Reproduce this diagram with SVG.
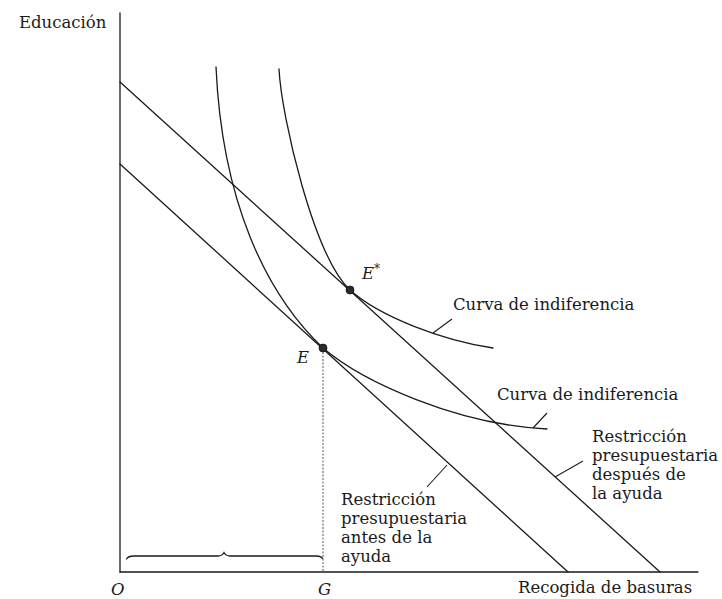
<svg xmlns="http://www.w3.org/2000/svg" width="722" height="599" viewBox="0 0 722 599">
<style>
.ln{fill:none;stroke:#1a1a1a;stroke-width:1.3;stroke-linecap:round}
.ld{fill:none;stroke:#1a1a1a;stroke-width:1.1}
.t{font-family:"DejaVu Serif","Liberation Serif",serif;font-size:16.5px;fill:#1a1a1a}
.it{font-family:"DejaVu Serif","Liberation Serif",serif;font-style:italic;font-size:16.5px;fill:#1a1a1a}
.dot{fill:#2a2a2a;stroke:#111;stroke-width:0.8}
</style>
<rect width="722" height="599" fill="#fff"/>
<g id="axes">
  <line class="ln" x1="120" y1="13" x2="120" y2="572"/>
  <line class="ln" x1="120" y1="572" x2="698" y2="572"/>
  <text class="t" x="19" y="28">Educación</text>
  <text class="t" x="518" y="593">Recogida de basuras</text>
  <text class="it" x="111" y="595">O</text>
  <text class="it" x="318" y="595">G</text>
</g>
<g id="budget-before">
  <line class="ln" x1="120" y1="164" x2="568" y2="572"/>
  <text class="t"><tspan x="341" y="505">Restricción</tspan><tspan x="341" y="524">presupuestaria</tspan><tspan x="341" y="543">antes de la</tspan><tspan x="341" y="562">ayuda</tspan></text>
</g>
<g id="budget-after">
  <line class="ln" x1="120" y1="82" x2="660" y2="572"/>
  <text class="t"><tspan x="592" y="442">Restricción</tspan><tspan x="592" y="461">presupuestaria</tspan><tspan x="592" y="480">después de</tspan><tspan x="592" y="499">la ayuda</tspan></text>
</g>
<g id="indiff-1">
  <path class="ln" d="M216,67 C222,200 265,293 323,348 C363,382 457,424.5 547,429"/>
  <text class="t" x="497" y="400">Curva de indiferencia</text>
</g>
<g id="indiff-2">
  <path class="ln" d="M279,69 C281.4,117.3 313.9,256.4 350,290 C380,317 443,340.5 493,348"/>
  <text class="t" x="453" y="310">Curva de indiferencia</text>
</g>
<g id="point-E">
  <circle class="dot" cx="323" cy="348" r="4"/>
  <text class="it" x="297" y="363">E</text>
  <line x1="323" y1="352" x2="323" y2="572" stroke="#555" stroke-width="1" stroke-dasharray="2,1.5"/>
</g>
<g id="point-Estar">
  <circle class="dot" cx="350" cy="290" r="4"/>
  <text class="it" x="362" y="279">E<tspan dy="-6" font-size="12">*</tspan></text>
</g>
<g id="bracket">
  <path class="ln" d="M126.5,559 Q128,556 134,556 L218,556 Q222,556 224,552.5 Q226,556 230,556 L316,556 Q321,556 322.5,558.5"/>
</g>
<g id="connectors">
  <line class="ld" x1="433" y1="333" x2="452" y2="319"/>
  <line class="ld" x1="533" y1="428" x2="547" y2="413"/>
  <line class="ld" x1="555" y1="477" x2="583" y2="461"/>
  <line class="ld" x1="447" y1="465" x2="427" y2="487"/>
</g>
</svg>
